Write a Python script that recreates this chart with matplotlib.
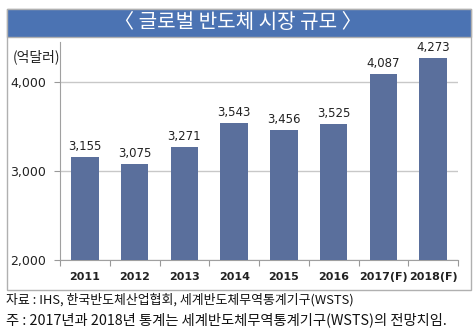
import matplotlib.pyplot as plt
from matplotlib.patches import Rectangle

plt.rcParams['font.family'] = ['Noto Sans CJK KR', 'DejaVu Sans']

# DATA
years  = ['2011', '2012', '2013', '2014', '2015', '2016', '2017(F)', '2018(F)']
market = [3155, 3075, 3271, 3543, 3456, 3525, 4087, 4273]
y_ticks = [2000, 3000, 4000]

title  = '〈 글로벌 반도체 시장 규모 〉'
unit   = '(억달러)'
source = '자료 : IHS, 한국반도체산업협회, 세계반도체무역통계기구(WSTS)'
note   = '주 : 2017년과 2018년 통계는 세계반도체무역통계기구(WSTS)의 전망치임.'

W, H = 476, 332
fig = plt.figure(figsize=(W / 100, H / 100), dpi=100)

def fx(px):
    return px / W

def fy(py):
    return 1 - py / H

# outer frame + title bar
fig.patches.append(Rectangle((fx(7), fy(290)), fx(464), 281 / H,
                             transform=fig.transFigure, facecolor='white',
                             edgecolor='#b0b0b0', linewidth=1, zorder=-2))
fig.patches.append(Rectangle((fx(7), fy(37)), fx(464), 28 / H,
                             transform=fig.transFigure, facecolor='#4b73b3',
                             edgecolor='#b0b0b0', linewidth=1, zorder=-1))
fig.text(0.5, fy(23), title, color='white', fontsize=14.5,
         ha='center', va='center')

# CHART
ax = fig.add_axes([fx(60), fy(260), fx(458 - 60), (260 - 42) / H])
ax.set_facecolor('none')
x = range(len(years))
ax.bar(x, market, width=0.55, color='#5a6f9c', zorder=3)
for i, v in enumerate(market):
    ax.text(i, v + 45, f'{v:,}', ha='center', va='bottom',
            fontsize=8.5, color='#222222', family='DejaVu Sans')

ax.set_xlim(-0.5, len(years) - 0.5)
ax.set_ylim(2000, 4450)
ax.set_yticks(y_ticks)
ax.set_yticklabels([f'{t:,}' for t in y_ticks], fontsize=9,
                   family='DejaVu Sans', color='#222222')
ax.yaxis.grid(True, color='#c8c8c8', linewidth=1)
ax.set_axisbelow(True)

ax.set_xticks([i + 0.5 for i in range(-1, len(years))])
ax.set_xticklabels([])
ax.set_xticks(list(x), minor=True)
ax.set_xticklabels(years, minor=True, fontsize=8, fontweight='bold',
                   family='DejaVu Sans', color='#222222')
ax.tick_params(axis='x', which='minor', length=0, pad=9)
ax.tick_params(axis='x', which='major', length=4, color='#999999')
ax.tick_params(axis='y', length=4, color='#999999', pad=6)

for s in ['top', 'right']:
    ax.spines[s].set_visible(False)
for s in ['left', 'bottom']:
    ax.spines[s].set_color('#a0a0a0')

fig.text(fx(13), fy(57), unit, fontsize=10, ha='left', va='center',
         color='#222222')

# FOOTNOTES
fig.text(fx(6), fy(300), source, fontsize=9.3, ha='left', va='center',
         color='#111111')
fig.text(fx(6), fy(320), note, fontsize=10.3, ha='left', va='center',
         color='#111111')

fig.savefig('out.png', dpi=100)
